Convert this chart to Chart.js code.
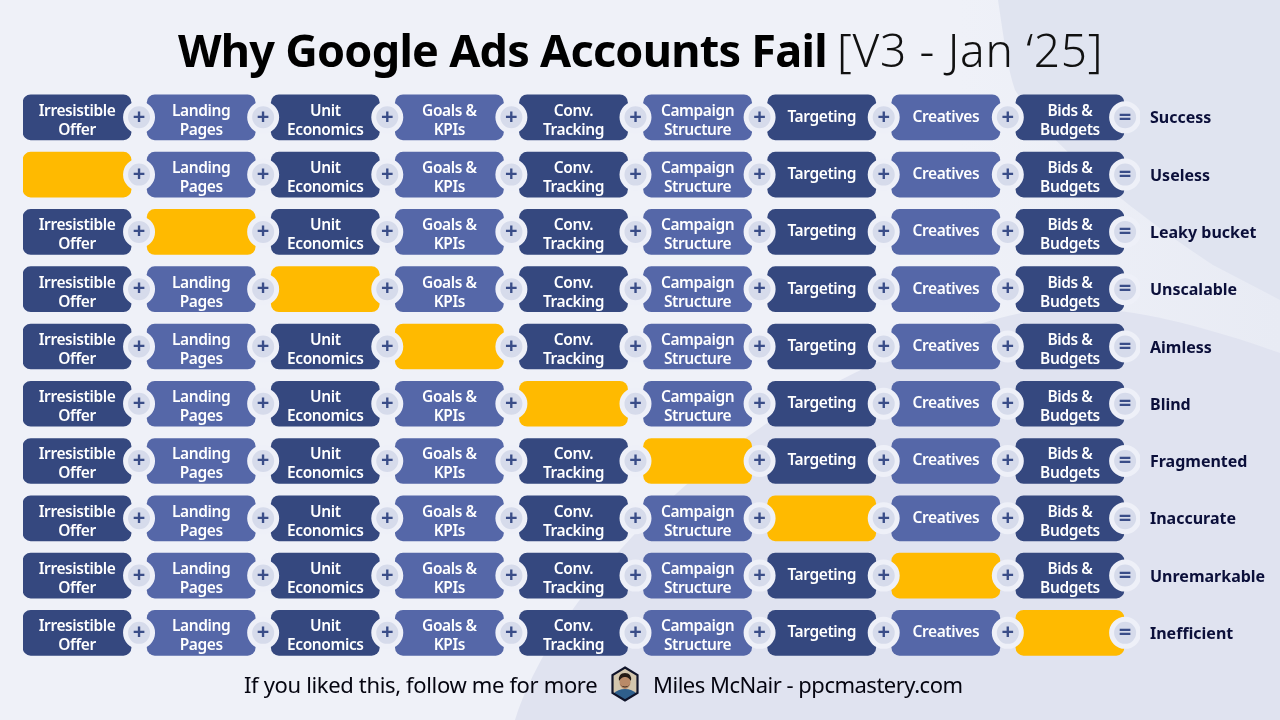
<!DOCTYPE html>
<html>
<head>
<meta charset="utf-8">
<title>Why Google Ads Accounts Fail</title>
<script src="https://cdn.jsdelivr.net/npm/chart.js@4"></script>
<style>
  html, body { margin: 0; padding: 0; }
  body { width: 1280px; height: 720px; overflow: hidden; position: relative; background: #eff1f8; font-family: "Noto Sans", sans-serif; }
  .bg { position: absolute; left: 0; top: 0; }
  canvas { position: absolute; left: 0; top: 0; }
  .txt { position: absolute; white-space: nowrap; transform-origin: left center; color: #050510; }
  #titleBold { left: 178px; top: 19px; font-size: 45px; font-weight: 700; color: #000; letter-spacing: -0.75px; }
  #titleLight { left: 837px; top: 18px; font-size: 46px; font-weight: 300; color: #111; letter-spacing: 0.7px; }
  #footLeft { left: 244px; top: 669px; font-size: 22px; letter-spacing: -0.35px; }
  #footRight { left: 653px; top: 669px; font-size: 22px; letter-spacing: -0.5px; }
  #avatar { position: absolute; left: 610px; top: 666px; }
</style>
</head>
<body>
<svg class="bg" width="1280" height="720">
  <defs>
    <linearGradient id="fade" x1="0" x2="1" y1="0" y2="0">
      <stop offset="0.75" stop-color="#eff1f8"/>
      <stop offset="1" stop-color="#e8ebf4"/>
    </linearGradient>
  </defs>
  <rect width="1280" height="720" fill="url(#fade)"/>
  <path d="M998 0 C1004 40 1008 70 1015 90 C1040 130 1100 190 1213 265 L1280 300 L1280 0 Z" fill="#e0e4f0"/>
  <path d="M515 720 C545 620 700 400 1000 318 C1060 302 1130 300 1280 353 L1280 720 Z" fill="#e0e3f0"/>
</svg>
<canvas id="chart" width="1280" height="720"></canvas>
<div class="txt" id="titleBold">Why Google Ads Accounts Fail</div>
<div class="txt" id="titleLight">[V3 - Jan ‘25]</div>
<div class="txt" id="footLeft">If you liked this, follow me for more</div>
<svg id="avatar" width="30" height="36" viewBox="0 0 30 36">
  <defs><clipPath id="hex"><path d="M15 1 L28 9 L28 27 L15 35 L2 27 L2 9 Z"/></clipPath></defs>
  <g clip-path="url(#hex)">
    <rect width="30" height="36" fill="#d3c6ae"/>
    <path d="M3 36 L3 28 Q8 23 15 23 Q22 23 27 28 L27 36 Z" fill="#2f5f8c"/>
    <ellipse cx="15" cy="16" rx="5.5" ry="7" fill="#b98a68"/>
    <path d="M9 15 Q8 7 15 7 Q22 7 21 15 Q18 10.5 15 11 Q12 10.5 9 15 Z" fill="#241a14"/>
    <path d="M10 18 Q15 25 20 18 Q18 20.5 15 20.5 Q12 20.5 10 18 Z" fill="#3a2a20"/>
  </g>
  <path d="M15 1.5 L27.5 9 L27.5 27 L15 34.5 L2.5 27 L2.5 9 Z" fill="none" stroke="#10142a" stroke-width="2.2"/>
</svg>
<div class="txt" id="footRight">Miles McNair - ppcmastery.com</div>

<script>
const steps = [
  ['Irresistible', 'Offer'],
  ['Landing', 'Pages'],
  ['Unit', 'Economics'],
  ['Goals &', 'KPIs'],
  ['Conv.', 'Tracking'],
  ['Campaign', 'Structure'],
  ['Targeting'],
  ['Creatives'],
  ['Bids &', 'Budgets']
]
const outcomes = ['Success', 'Useless', 'Leaky bucket', 'Unscalable', 'Aimless', 'Blind', 'Fragmented', 'Inaccurate', 'Unremarkable', 'Inefficient']
// which step is missing in each row, null = nothing missing
const missingStep = [null, 0, 1, 2, 3, 4, 5, 6, 7, 8]

const DARK = '#35487f'
const LIGHT = '#5567a8'
const GOLD = '#ffba00'
const BAR_SPAN = 0.871

const barSets = steps.map((step, col) => ({
  type: 'bar',
  label: step.join(' '),
  data: outcomes.map(() => [col, col + BAR_SPAN]),
  backgroundColor: outcomes.map((o, row) => missingStep[row] === col ? GOLD : (col % 2 ? LIGHT : DARK)),
  borderRadius: 8,
  borderSkipped: false,
  barThickness: 45,
  grouped: false,
  order: 2
}))

function connectorPoints(cols) {
  const points = []
  outcomes.forEach(o => cols.forEach(col => {
    points.push({x: col === steps.length - 1 ? col + 0.88 : col + 0.935, y: o})
  }))
  return points
}

const connectorStyle = {
  type: 'scatter',
  showLine: false,
  pointRadius: 13.5,
  pointHoverRadius: 13.5,
  pointBorderWidth: 5,
  pointBackgroundColor: '#d6dbeb',
  pointBorderColor: '#eef0f8',
  order: 1
}
const plusSet = {...connectorStyle, label: '+', data: connectorPoints(steps.slice(0, -1).map((s, i) => i))}
const equalsSet = {...connectorStyle, label: '=', data: connectorPoints([steps.length - 1])}

const cardText = {
  id: 'cardText',
  afterDatasetsDraw(chart) {
    const ctx = chart.ctx
    ctx.save()
    ctx.textAlign = 'center'
    ctx.textBaseline = 'middle'
    // step names on the bars
    ctx.font = '600 15.5px "Noto Sans"'
    ctx.letterSpacing = '-0.4px'
    ctx.fillStyle = '#ffffff'
    steps.forEach((lines, col) => {
      chart.getDatasetMeta(col).data.forEach((bar, row) => {
        if (missingStep[row] === col) return
        const c = bar.getCenterPoint()
        if (lines.length === 1) {
          ctx.fillText(lines[0], c.x, c.y)
        } else {
          ctx.fillText(lines[0], c.x, c.y - 6)
          ctx.fillText(lines[1], c.x, c.y + 13)
        }
      })
    })
    // + and = signs on the connectors
    ctx.letterSpacing = '0px'
    ctx.font = '700 22px "Noto Sans"'
    ctx.fillStyle = '#3a4d88'
    ;[steps.length, steps.length + 1].forEach(idx => {
      const meta = chart.getDatasetMeta(idx)
      meta.data.forEach(p => ctx.fillText(chart.data.datasets[idx].label, p.x, p.y))
    })
    ctx.restore()
  }
}

new Chart(document.getElementById('chart').getContext('2d'), {
  type: 'bar',
  data: {
    labels: outcomes,
    datasets: [...barSets, plusSet, equalsSet]
  },
  options: {
    indexAxis: 'y',
    responsive: false,
    animation: false,
    layout: {padding: {left: 23, top: 88.7, bottom: 58.5}},
    plugins: {legend: {display: false}, tooltip: {enabled: false}},
    scales: {
      x: {type: 'linear', min: 0, max: 9, display: false},
      y: {
        type: 'category',
        position: 'right',
        offset: true,
        grid: {display: false, drawTicks: false},
        border: {display: false},
        afterFit(scale) { scale.width = 140 },
        ticks: {
          padding: 10,
          labelOffset: 1.5,
          color: '#0b0f3a',
          font: {family: '"Noto Sans"', size: 16, weight: '700'}
        }
      }
    }
  },
  plugins: [cardText]
})
</script>
</body>
</html>
